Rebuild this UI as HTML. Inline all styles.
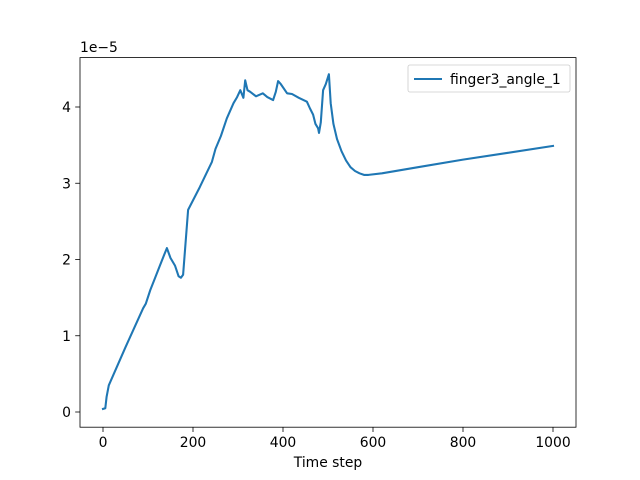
<!DOCTYPE html>
<html><head><meta charset="utf-8"><style>
body{margin:0;background:#fff;}
svg{display:block;font-family:"DejaVu Sans","Liberation Sans",sans-serif;}
</style></head><body>
<svg id="chart" width="640" height="480">
<rect x="0" y="0" width="640" height="480" fill="#fff"/>
<g id="ticks"></g>
<path id="series" fill="none" stroke="#1f77b4" stroke-width="2.08" stroke-linejoin="round" stroke-linecap="square"/>
<rect x="80" y="57.6" width="496" height="369.6" fill="none" stroke="#000" stroke-width="0.8"/>
<text x="80" y="52" font-size="13.9">1e−5</text>
<text x="328" y="467" font-size="13.9" text-anchor="middle">Time step</text>
<g>
<rect x="408" y="65" width="162" height="27" rx="2" fill="#fff" stroke="#ccc" stroke-width="0.8"/>
<line x1="414" y1="79" x2="442" y2="79" stroke="#1f77b4" stroke-width="2.08"/>
<text x="450" y="84" font-size="13.9">finger3_angle_1</text>
</g>
</svg>
<script>
const xVals=[0,5,8,13,50,89,95,105,115,125,135,142,150,160,168,173,178,189,215,242,250,262,275,290,298,305,312,316,321,327,340,355,365,378,384,389,395,409,420,435,453,460,467,472,478,480,484,489,495,502,506,512,520,530,540,550,560,570,580,590,620,700,800,900,1000];
const yVals=[0.04,0.05,0.2,0.35,0.85,1.36,1.42,1.6,1.75,1.9,2.05,2.15,2.02,1.92,1.78,1.76,1.8,2.65,2.95,3.28,3.45,3.62,3.85,4.05,4.13,4.22,4.12,4.35,4.22,4.2,4.14,4.18,4.13,4.09,4.2,4.34,4.3,4.18,4.17,4.12,4.07,3.98,3.9,3.78,3.72,3.66,3.8,4.22,4.3,4.43,4.05,3.78,3.58,3.42,3.3,3.21,3.16,3.13,3.11,3.11,3.13,3.21,3.31,3.4,3.49];
const xTicks=[0,200,400,600,800,1000];
const yTicks=[0,1,2,3,4];
const xs=v=>103+v*0.45;
const ys=v=>412-v*76.25;
let d='';
xVals.forEach((x,i)=>{d+=(i?'L':'M')+xs(x).toFixed(1)+' '+ys(yVals[i]).toFixed(1);});
document.getElementById('series').setAttribute('d',d);
const g=document.getElementById('ticks');
const NS='http://www.w3.org/2000/svg';
xTicks.forEach(t=>{
 const l=document.createElementNS(NS,'line');
 l.setAttribute('x1',xs(t));l.setAttribute('x2',xs(t));l.setAttribute('y1',427.2);l.setAttribute('y2',432);l.setAttribute('stroke','#000');l.setAttribute('stroke-width','0.8');
 
 
 g.appendChild(l);
 const tx=document.createElementNS(NS,'text');
 tx.setAttribute('x',xs(t));tx.setAttribute('y',447);tx.setAttribute('font-size','13.9');tx.setAttribute('text-anchor','middle');tx.textContent=t;
 
 
 g.appendChild(tx);
});
yTicks.forEach(t=>{
 const l=document.createElementNS(NS,'line');
 l.setAttribute('x1',75.2);l.setAttribute('x2',80);l.setAttribute('y1',ys(t));l.setAttribute('y2',ys(t));l.setAttribute('stroke','#000');l.setAttribute('stroke-width','0.8');
 
 
 g.appendChild(l);
 const tx=document.createElementNS(NS,'text');
 tx.setAttribute('x',71);tx.setAttribute('y',ys(t)+5);tx.setAttribute('font-size','13.9');tx.setAttribute('text-anchor','end');tx.textContent=t;
 
 
 g.appendChild(tx);
});
</script>
</body></html>
